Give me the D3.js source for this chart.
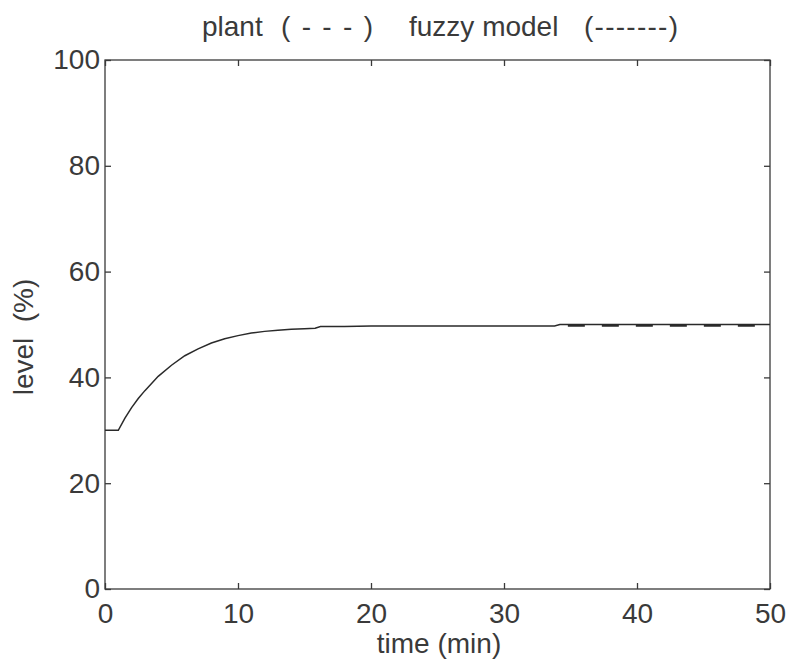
<!DOCTYPE html>
<html>
<head>
<meta charset="utf-8">
<script src="https://cdn.jsdelivr.net/npm/d3@7"></script>
<style>
  body { margin: 0; background: #fff; }
  text { font-family: "Liberation Sans", Arial, sans-serif; fill: #3a3a3a; }
</style>
</head>
<body>
<svg id="chart" width="791" height="670"></svg>
<script>
// fuzzy model response (solid line)
var modelTime  = [0, 1, 1.5, 2, 2.5, 3, 4, 5, 6, 7, 8, 9, 10, 11, 12, 13, 14, 15, 15.8, 16.2, 18, 20, 25, 30, 33.8, 34.2, 40, 50];
var modelLevel = [30, 30, 32.3, 34.3, 36.0, 37.5, 40.2, 42.3, 44.1, 45.4, 46.5, 47.3, 47.9, 48.4, 48.7, 48.9, 49.1, 49.2, 49.3, 49.6, 49.6, 49.7, 49.7, 49.7, 49.7, 50.0, 50.0, 50.0];
// plant response (dashed), only visible where it leaves the model curve
var plantTime  = [34.8, 40, 50];
var plantLevel = [49.8, 49.8, 49.8];

var xTicks = [0, 10, 20, 30, 40, 50];
var yTicks = [0, 20, 40, 60, 80, 100];

var svg = d3.select("#chart");
var m = { left: 105, right: 770, top: 60, bottom: 589 };

var x = d3.scaleLinear().domain([0, 50]).range([m.left, m.right]);
var y = d3.scaleLinear().domain([0, 100]).range([m.bottom, m.top]);

// frame
svg.append("rect")
  .attr("x", m.left).attr("y", m.top)
  .attr("width", m.right - m.left).attr("height", m.bottom - m.top)
  .attr("fill", "none").attr("stroke", "#3a3a3a").attr("stroke-width", 1.3);

function styleAxis(g) {
  g.select(".domain").remove();
  g.selectAll(".tick line").attr("stroke", "#3a3a3a").attr("stroke-width", 1.3);
  g.selectAll(".tick text").style("font-size", "28px").attr("fill", "#3a3a3a");
}

svg.append("g").attr("transform", "translate(0," + m.bottom + ")")
  .call(d3.axisBottom(x).tickValues(xTicks).tickSize(-6).tickPadding(14))
  .call(styleAxis);
svg.append("g").attr("transform", "translate(0," + m.top + ")")
  .call(d3.axisTop(x).tickValues(xTicks).tickSize(-6).tickFormat(""))
  .call(styleAxis);
svg.append("g").attr("transform", "translate(" + m.left + ",0)")
  .call(d3.axisLeft(y).tickValues(yTicks).tickSize(-6).tickPadding(5))
  .call(styleAxis);
svg.append("g").attr("transform", "translate(" + m.right + ",0)")
  .call(d3.axisRight(y).tickValues(yTicks).tickSize(-6).tickFormat(""))
  .call(styleAxis);

var line = d3.line().x(function(d) { return x(d[0]); }).y(function(d) { return y(d[1]); });

svg.append("path")
  .attr("d", line(d3.zip(modelTime, modelLevel)))
  .attr("fill", "none").attr("stroke", "#2a2a2a").attr("stroke-width", 1.5);

svg.append("path")
  .attr("d", line(d3.zip(plantTime, plantLevel)))
  .attr("fill", "none").attr("stroke", "#2a2a2a").attr("stroke-width", 2.5)
  .attr("stroke-dasharray", "17,17");

// title pieces
var title = svg.append("g").style("font-size", "28px");
title.append("text").attr("x", 202).attr("y", 36).text("plant");
title.append("text").attr("x", 281).attr("y", 36).attr("xml:space", "preserve")
  .attr("textLength", 92).text("( - - - )");
title.append("text").attr("x", 409).attr("y", 36).text("fuzzy model");
title.append("text").attr("x", 584).attr("y", 36)
  .attr("textLength", 94).text("(-------)");

svg.append("text").attr("x", 439).attr("y", 653).attr("text-anchor", "middle")
  .style("font-size", "28px").text("time (min)");
svg.append("text")
  .attr("transform", "translate(33,337) rotate(-90)")
  .attr("text-anchor", "middle").attr("xml:space", "preserve")
  .style("font-size", "28px").text("level  (%)");
</script>
</body>
</html>
